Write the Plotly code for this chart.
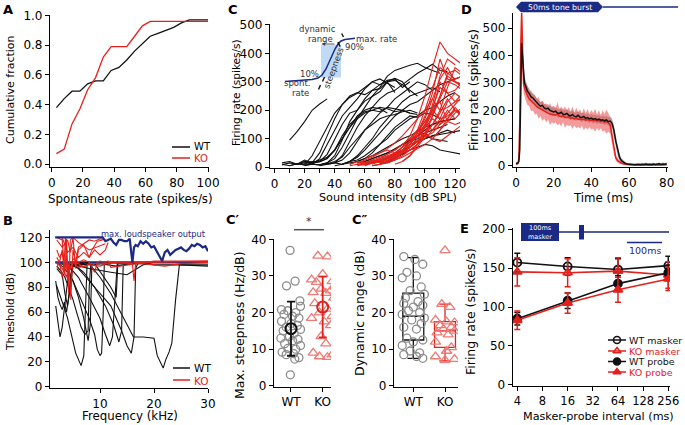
import plotly.graph_objects as go

W, H = 685, 425
FONT = "DejaVu Sans"
BLACK = "#111111"
RED = "#e3211c"
LRED = "#ee7a74"
GRAY = "#8c8c8c"
NAVY = "#1b2a85"

# ---------------- data ----------------
# A: cumulative distribution of spontaneous rates
A_RATE = [3, 8, 13, 18, 23, 28, 33, 38, 43, 48, 53, 58, 63, 68, 73, 78, 83, 88, 93, 98, 100]
A_WT = [0.38, 0.44, 0.49, 0.49, 0.54, 0.56, 0.56, 0.63, 0.65, 0.70, 0.76, 0.81, 0.86, 0.88, 0.90,
        0.92, 0.95, 0.97, 0.97, 0.97, 0.97]
A_KO = [0.07, 0.10, 0.27, 0.37, 0.50, 0.58, 0.72, 0.79, 0.79, 0.79, 0.86, 0.93, 0.96, 0.96, 0.96,
        0.96, 0.96, 0.96, 0.96, 0.96, 0.96]

# B: tuning curves (frequency kHz, threshold dB)
B_WT = [
    ([1.8, 2.2, 2.6, 3.0, 3.3, 3.6, 4.0, 4.5, 5.0, 6.0, 8.0], [65, 50, 40, 48, 62, 70, 85, 97, 100, 99, 100]),
    ([1.8, 2.2, 2.6, 3.0, 3.4, 3.8, 4.2, 4.6, 5.0, 7.0], [85, 72, 66, 62, 68, 60, 72, 90, 100, 99]),
    ([1.9, 2.5, 3.0, 3.5, 4.0, 4.5, 5.0, 5.5, 6.0, 6.5, 7.0, 7.3, 7.6, 8.5],
     [82, 75, 68, 62, 55, 45, 35, 27, 22, 17, 25, 60, 98, 99]),
    ([2.0, 3.0, 4.0, 5.0, 6.0, 7.0, 8.0, 9.0, 9.5, 10.0, 10.3, 10.6, 10.8, 12.0],
     [99, 97, 92, 85, 75, 65, 55, 42, 30, 25, 27, 60, 100, 99]),
    ([3.0, 4.0, 5.0, 6.0, 7.0, 7.8, 8.2, 8.5, 10.0], [99, 95, 85, 72, 55, 37, 50, 99, 99]),
    ([4.0, 6.0, 8.0, 10.0, 11.0, 11.8, 12.3, 12.8, 13.2, 15.0], [98, 88, 72, 55, 42, 33, 40, 70, 99, 99]),
    ([4.0, 6.0, 8.0, 10.0, 12.0, 14.0, 15.0, 15.8, 16.3, 16.6, 17.0], [99, 95, 85, 75, 65, 45, 33, 27, 40, 95, 99]),
    ([8.0, 10.0, 12.0, 14.0, 15.5, 16.2, 18.0, 20.0, 20.6, 21.2, 21.7, 22.2, 22.8, 23.3, 24.0, 24.7, 30.0],
     [99, 88, 75, 58, 45, 40, 40, 39, 25, 20, 15, 22, 28, 35, 70, 98, 98]),
    ([5.0, 7.0, 9.0, 11.0, 12.5, 13.5, 14.0, 14.3, 16.0], [99, 92, 80, 65, 50, 36, 45, 99, 99]),
    ([2.0, 5.0, 10.0, 13.0, 16.0, 19.0, 20.0, 25.0, 30.0], [99, 98, 99, 97, 99, 99, 98, 98, 97]),
    ([2.0, 3.0, 3.5, 4.0, 4.5, 5.0, 8.0], [95, 90, 75, 65, 80, 97, 99]),
    ([9.0, 10.5, 12.0, 13.0, 13.3, 14.0], [99, 90, 80, 72, 99, 99]),
    ([4.0, 8.0, 12.0, 15.0, 18.0, 19.0], [99, 95, 92, 90, 98, 99]),
    ([2.0, 2.8, 3.5, 4.2, 5.0, 5.8, 6.5, 7.2, 7.8, 8.0, 8.3], [97, 93, 88, 80, 70, 58, 48, 42, 45, 80, 99]),
]
B_KO = [
    ([2.0, 2.5, 3.0, 3.3, 3.6, 4.0, 4.3, 4.6, 5.0, 5.5, 6.0, 7.0, 8.0, 9.0, 10.0, 11.0],
     [104, 100, 110, 95, 120, 85, 100, 70, 110, 100, 112, 115, 118, 117, 119, 118]),
    ([2.0, 3.0, 3.5, 3.8, 4.2, 4.5, 5.0, 6.0, 8.0, 10.0, 11.0], [120, 118, 90, 119, 75, 118, 120, 116, 110, 113, 115]),
    ([2.0, 3.0, 3.8, 4.3, 5.0, 6.0, 8.0, 10.0, 12.0, 16.0, 16.3, 16.6, 18.0, 20.0, 22.0, 25.0, 30.0],
     [100, 95, 88, 99, 100, 96, 98, 97, 100, 99, 85, 99, 99, 98, 97, 99, 100]),
    ([2.0, 2.5, 3.0, 3.5, 4.0, 4.5, 5.0, 6.0, 7.0, 8.0, 9.0, 9.5, 10.0, 11.0, 11.5, 12.0, 20.0, 30.0],
     [110, 104, 108, 96, 100, 94, 103, 100, 102, 100, 92, 100, 101, 100, 101, 96, 101, 101]),
    ([3.0, 4.0, 5.0, 6.0, 7.0, 8.0, 9.0, 10.0, 11.0, 11.5], [120, 108, 112, 104, 108, 104, 110, 106, 110, 116]),
    ([2.0, 3.0, 4.0, 4.5, 5.0, 5.5, 6.0, 7.0, 8.0, 8.5, 9.5, 10.5],
     [118, 112, 118, 108, 120, 95, 110, 114, 104, 110, 117, 118]),
    ([2.0, 2.5, 3.0, 3.5, 4.0, 5.0, 6.0, 7.0, 8.0, 20.0, 30.0], [96, 100, 88, 100, 93, 100, 99, 96, 99, 100, 101]),
]
B_MAX_F = [1.7, 10.5, 11.0, 11.5, 12.0, 12.5, 13.0, 13.5, 14.0, 14.5, 15.0, 15.5, 16.0, 16.3, 16.6, 17.0,
           17.5, 18.0, 18.5, 19.0, 19.5, 20.0, 20.5, 21.0, 21.5, 22.0, 22.5, 23.0, 23.5, 24.0, 24.5,
           25.0, 25.5, 26.0, 26.5, 27.0, 27.5, 28.0, 28.5, 29.0, 29.5, 30.0]
B_MAX_DB = [120, 120, 117, 118, 119, 116, 114, 118, 118, 117, 117, 119, 100, 112, 114, 113,
            117, 115, 117, 115, 112, 113, 109, 106, 101, 108, 110, 106, 108, 110, 111,
            112, 110, 109, 111, 114, 113, 115, 114, 112, 113, 109]
B_FLOOR_F = [1.7, 30.0]
B_FLOOR_DB = [100, 100]

# C: rate-level functions
C_LEVELS = [0, 5, 10, 15, 20, 25, 30, 35, 40, 45, 50, 55, 60, 65, 70, 75, 80, 85, 90, 95,
            100, 105, 110, 115, 120, 125]
C_WT = [
    (10, [95, 125, 160, 200, 222, 240]),
    (5, [10, 5, 12, 8, 40, 90, 140, 190, 220, 245, 260, 280, 300, 290, 305, 310, 280, 300]),
    (5, [8, 15, 10, 20, 15, 50, 110, 170, 220, 250, 262, 255, 270, 276, 300, 262]),
    (10, [5, 12, 8, 10, 30, 80, 130, 180, 210, 240, 275, 300, 310, 295, 280]),
    (15, [10, 15, 12, 20, 45, 95, 150, 190, 200, 232, 250, 265, 300, 305, 290, 270, 250]),
    (20, [5, 10, 8, 15, 40, 95, 160, 200, 240, 270, 290, 300, 312, 300, 262]),
    (20, [15, 20, 18, 30, 60, 110, 150, 175, 195, 200, 210, 205, 195, 200, 190]),
    (25, [10, 8, 15, 30, 70, 120, 170, 210, 250, 280, 320, 340, 350, 358, 365, 350, 340, 330]),
    (30, [5, 10, 15, 40, 90, 140, 180, 210, 240, 260, 270, 290, 310, 330, 345, 362, 340, 335]),
    (30, [8, 12, 20, 35, 70, 100, 130, 150, 170, 180, 185, 195, 200, 190]),
    (35, [10, 15, 25, 50, 90, 130, 160, 190, 210, 240, 260, 280, 300, 290, 270]),
    (40, [5, 10, 20, 40, 70, 100, 140, 170, 200, 230, 250, 260, 270, 280, 265]),
    (45, [10, 15, 20, 30, 50, 80, 110, 140, 160, 180, 175, 190, 185, 170]),
    (40, [15, 10, 20, 25, 40, 60, 80, 100, 130, 150, 170, 180, 200, 210, 230, 250, 262]),
    (50, [10, 20, 30, 40, 55, 70, 85, 100, 110, 125, 140, 150, 160, 165, 170]),
    (55, [15, 20, 30, 40, 50, 65, 80, 95, 110, 120, 130, 140, 150]),
    (60, [10, 15, 25, 35, 45, 60, 70, 90, 100, 110, 120, 130, 120]),
    (60, [20, 30, 40, 50, 60, 80, 90, 100, 110, 100, 95, 90]),
    (65, [5, 10, 20, 30, 45, 60, 70, 80, 75, 60, 55, 50, 45]),
    (45, [10, 20, 35, 60, 90, 120, 150, 180, 200, 220, 230, 250, 270, 290, 300, 310, 320]),
    (15, [10, 20, 15, 25, 35, 60, 100, 140, 170, 190, 200, 195, 210, 205, 200, 190, 185]),
    (5, [15, 20, 10, 25, 15, 20, 30, 60, 100, 140, 180, 200, 210, 205, 190]),
    (70, [10, 20, 40, 60, 90, 110, 130, 150, 160, 165, 170]),
    (75, [15, 30, 50, 70, 90, 100, 110, 115, 120, 125, 130]),
]
C_KO = [
    (50, [5, 10, 8, 15, 20, 30, 45, 70, 110, 170, 250, 350, 440, 400, 380, 360]),
    (55, [10, 15, 20, 25, 30, 40, 60, 90, 130, 200, 280, 350, 330, 340, 320]),
    (60, [15, 20, 25, 35, 40, 60, 80, 120, 180, 260, 380, 310, 300, 290]),
    (55, [20, 10, 25, 15, 30, 35, 50, 70, 100, 140, 200, 300, 260, 270, 300]),
    (50, [10, 20, 15, 25, 20, 35, 30, 50, 60, 80, 120, 180, 250, 330, 310, 320]),
    (60, [5, 15, 20, 30, 45, 55, 70, 90, 120, 150, 190, 240, 200, 180]),
    (65, [10, 20, 30, 40, 60, 80, 110, 150, 210, 280, 260, 230, 240]),
    (55, [5, 10, 20, 30, 45, 60, 80, 100, 130, 160, 200, 230, 160, 150, 160]),
    (60, [30, 40, 50, 60, 50, 70, 90, 110, 140, 170, 150, 170, 210, 180]),
    (65, [20, 30, 40, 50, 70, 90, 120, 160, 200, 170, 180, 200, 190]),
    (70, [10, 20, 30, 50, 70, 100, 140, 190, 250, 320, 300, 290]),
    (60, [10, 25, 35, 45, 60, 80, 100, 130, 110, 120, 150, 190, 220, 250]),
    (75, [15, 25, 40, 60, 80, 110, 150, 200, 280, 350, 330]),
    (70, [20, 35, 50, 60, 80, 90, 120, 100, 130, 160, 190, 210]),
    (80, [10, 20, 40, 70, 110, 180, 240, 300, 290, 270]),
    (65, [5, 10, 15, 25, 35, 50, 65, 80, 100, 130, 170, 200, 180]),
    (60, [10, 15, 20, 30, 40, 50, 70, 90, 120, 100, 90, 110, 130, 150]),
    (75, [20, 30, 50, 80, 120, 170, 240, 310, 350, 300, 280]),
    (80, [30, 50, 60, 80, 100, 130, 170, 230, 260, 240]),
    (70, [15, 25, 35, 55, 80, 110, 150, 130, 160, 200, 170, 200]),
    (85, [20, 40, 80, 140, 220, 320, 380, 360]),
    (55, [15, 25, 35, 50, 65, 85, 110, 140, 170, 200, 240, 200, 210, 230, 260]),
]
# schematic inset (pixel space)
C_INSET_X = [285, 295, 305, 312, 318, 322, 326, 329, 332, 335, 338, 341, 345, 350, 355]
C_INSET_Y = [81.5, 81, 80.5, 79.5, 78, 75, 69, 62, 55, 49, 44, 41, 39.5, 38.5, 38.2]

# D: PSTH
D_T = [0, 1, 1.5, 2, 2.5, 3, 3.5, 4, 4.5,
       5, 6, 7, 8, 9, 10, 11, 12, 13, 14, 15, 16, 17, 18, 19, 20, 21, 22, 23, 24, 25, 26, 27, 28, 29,
       30, 31, 32, 33, 34, 35, 36, 37, 38, 39, 40, 41, 42, 43, 44, 45, 46, 47, 48, 49, 50, 51, 52, 53,
       54, 55, 56, 57, 58, 59, 60, 61, 62, 63, 64, 65, 66, 67, 68, 69, 70, 71, 72, 73, 74, 75, 76, 77,
       78, 79, 80]
D_WT = [8, 10, 14, 60, 250, 445, 390, 320, 300,
        292, 272, 262, 250, 246, 236, 230, 222, 216, 219, 210, 206, 209, 201, 198, 195, 198, 191, 190,
        194, 187, 186, 190, 183, 181, 186, 179, 178, 183, 176, 175, 179, 172, 175, 170, 173, 168, 171,
        166, 169, 165, 167, 163, 166, 160, 162, 154, 128, 88, 52, 30, 18, 12, 8, 6, 5, 4, 5, 3, 4, 5,
        3, 5, 4, 6, 4, 5, 3, 6, 4, 5, 7, 4, 6, 5, 7]
D_WT_SEM = [3, 4, 6, 15, 35, 40, 35, 25, 22,
            20, 18, 18, 17, 17, 16, 16, 16, 15, 16, 15, 15, 14, 15, 16, 15, 14, 15, 15, 14, 15, 16, 15,
            14, 15, 15, 14, 15, 14, 15, 16, 15, 14, 15, 15, 14, 15, 14, 15, 15, 14, 15, 16, 15, 15, 16,
            16, 18, 18, 15, 12, 8, 6, 5, 4, 4, 4, 4, 5, 4, 4, 5, 4, 4, 5, 4, 4, 5, 4, 4, 5, 4, 4, 5, 4, 5]
D_KO = [5, 8, 25, 160, 430, 560, 420, 300, 282,
        270, 255, 242, 236, 228, 222, 214, 210, 204, 200, 197, 192, 191, 188, 186, 185, 183, 188, 180,
        178, 182, 176, 175, 178, 172, 174, 170, 173, 168, 170, 167, 169, 165, 168, 164, 166, 163, 165,
        162, 164, 160, 162, 158, 160, 156, 148, 108, 55, 28, 18, 12, 9, 7, 5, 4, 3, 3, 2, 3, 2, 3, 2,
        2, 3, 2, 3, 2, 2, 3, 2, 3, 2, 2, 3, 2, 3]
D_KO_SEM = [3, 5, 10, 40, 60, 50, 45, 35, 30,
            30, 35, 25, 38, 28, 36, 26, 40, 24, 38, 26, 35, 22, 40, 28, 33, 24, 42, 27, 36, 23, 39, 26,
            34, 25, 41, 24, 37, 27, 35, 22, 40, 26, 38, 24, 36, 28, 42, 25, 37, 24, 39, 30, 44, 33, 30,
            25, 15, 10, 8, 6, 5, 4, 4, 3, 3, 3, 2, 3, 2, 3, 2, 3, 2, 3, 2, 3, 2, 3, 2, 3, 2, 3, 2, 3, 2]

# C': maximum steepness
CP_WT = [37.0, 28.6, 27.3, 23.2, 21.7, 20.8, 20.5, 20.0, 19.5, 19.0, 18.5, 17.6, 17.0, 16.5, 16.0, 15.4,
         15.0, 14.3, 13.5, 13.0, 12.7, 12.3, 11.5, 11.0, 10.2, 10.0, 9.2, 8.8, 8.5, 7.7, 7.3, 3.0]
CP_WT_JIT = [-0.03, 0.13, -0.14, 0.28, 0.30, -0.30, -0.10, 0.15, -0.22, 0.05, 0.25, -0.30, 0.00, 0.20,
             -0.15, 0.30, -0.25, 0.10, -0.05, -0.32, 0.22, 0.05, -0.20, 0.30, -0.10, 0.15, -0.28, 0.08,
             -0.15, 0.25, 0.12, -0.02]
CP_KO = [35.5, 35.3, 30.5, 29.0, 28.5, 28.3, 27.0, 26.5, 26.0, 25.5, 25.3, 24.0, 22.5, 21.0, 20.0, 19.0,
         18.5, 17.5, 16.5, 13.5, 11.5, 9.0, 8.5, 8.0, 7.8]
CP_KO_JIT = [-0.15, 0.15, 0.0, -0.35, 0.3, -0.2, 0.38, -0.05, 0.25, -0.3, 0.1, 0.35, -0.25, 0.15, -0.1,
             0.3, -0.35, 0.05, 0.25, -0.05, 0.1, -0.3, 0.3, -0.1, 0.15]
CP_MEAN = [15.6, 21.5]
CP_SD = [7.4, 8.3]

# C'': dynamic range
CPP_WT = [35.3, 34.5, 33.2, 31.0, 30.0, 29.5, 27.0, 26.0, 25.0, 24.0, 23.0, 22.5, 22.0, 21.5, 20.5, 20.0,
          19.5, 18.5, 18.0, 17.0, 16.0, 15.5, 13.0, 12.5, 12.0, 11.0, 9.5, 9.0, 8.5, 8.0, 7.5]
CPP_WT_JIT = [-0.3, 0.05, 0.3, -0.2, 0.1, -0.35, 0.25, -0.1, 0.35, -0.25, 0.15, -0.3, 0.3, 0.0, -0.15,
              0.2, -0.35, 0.35, -0.05, 0.25, -0.3, 0.1, -0.2, 0.3, 0.0, -0.35, -0.1, 0.2, -0.3, 0.1, 0.3]
CPP_KO = [37.0, 22.3, 21.5, 18.0, 17.5, 17.3, 16.5, 16.0, 15.5, 15.0, 14.5, 14.0, 12.0, 10.5, 9.5, 8.0,
          7.3, 7.0]
CPP_KO_JIT = [0.0, -0.1, 0.15, -0.3, 0.05, 0.3, -0.15, 0.2, -0.05, 0.3, -0.25, 0.1, -0.3, 0.2, 0.05,
              -0.3, 0.3, 0.0]
CPP_STATS = {"q1": [12.5, 10.5], "median": [19.0, 15.0], "q3": [25.3, 17.5],
             "lo": [7.5, 6.8], "hi": [35.0, 22.3]}

# E: forward masking
E_INT = [4, 16, 64, 256]
E_WT_MASK = [157, 152, 148, 153]
E_WT_MASK_ERR = [12, 11, 14, 12]
E_KO_MASK = [145, 144, 146, 141]
E_KO_MASK_ERR = [18, 18, 17, 17]
E_WT_PROBE = [85, 108, 130, 144]
E_WT_PROBE_ERR = [8, 10, 10, 10]
E_KO_PROBE = [83, 105, 122, 136]
E_KO_PROBE_ERR = [12, 13, 16, 15]
E_TICKS = [4, 8, 16, 32, 64, 128, 256]

# ---------------- figure ----------------
fig = go.Figure()
ann = []
shapes = []


def dx(a, b):
    return [a / W, b / W]


def dy(top, bottom):
    return [1 - bottom / H, 1 - top / H]


def ax(**kw):
    d = dict(showline=True, linecolor="black", linewidth=1.2, ticks="outside", ticklen=4,
             tickwidth=1.2, tickcolor="black", showgrid=False, zeroline=False, automargin=False,
             tickangle=0, tickfont=dict(family=FONT, size=12, color="black"))
    d.update(kw)
    return d


def txt(x, y, s, size=12, color="black", xa="center", ya="middle", angle=0, bold=False):
    if bold:
        s = "<b>" + s + "</b>"
    ann.append(dict(x=x, y=y, xref="x8", yref="y8", text=s, showarrow=False, xanchor=xa, yanchor=ya,
                    textangle=angle, font=dict(family=FONT, size=size, color=color)))


def seg(x0, y0, x1, y1, color="black", width=1.5, dash=None):
    ln = dict(color=color, width=width)
    if dash:
        ln["dash"] = dash
    shapes.append(dict(type="line", x0=x0, y0=y0, x1=x1, y1=y1, xref="x8", yref="y8", line=ln))


def sc(x, y, xa, ya, **kw):
    fig.add_trace(go.Scatter(x=x, y=y, xaxis=xa, yaxis=ya, showlegend=False, hoverinfo="skip", **kw))


# ---- A ----
sc(A_RATE, A_WT, "x", "y", mode="lines", line=dict(color=BLACK, width=1.3))
sc(A_RATE, A_KO, "x", "y", mode="lines", line=dict(color=RED, width=1.3))

# ---- B ----
sc(B_FLOOR_F, B_FLOOR_DB, "x2", "y2", mode="lines", line=dict(color=NAVY, width=2.2))
for f, t in B_WT:
    sc(f, t, "x2", "y2", mode="lines", line=dict(color=BLACK, width=1.1))
for f, t in B_KO:
    sc(f, t, "x2", "y2", mode="lines", line=dict(color=RED, width=1.1))
sc(B_MAX_F, B_MAX_DB, "x2", "y2", mode="lines", line=dict(color=NAVY, width=2.2))

# ---- C ----
for s, v in C_WT:
    i = C_LEVELS.index(s)
    sc(C_LEVELS[i:i + len(v)], v, "x3", "y3", mode="lines", line=dict(color=BLACK, width=1.1))
for s, v in C_KO:
    i = C_LEVELS.index(s)
    sc(C_LEVELS[i:i + len(v)], v, "x3", "y3", mode="lines", line=dict(color=RED, width=1.1))

# ---- D ----
wt_up = [m + e for m, e in zip(D_WT, D_WT_SEM)]
wt_lo = [max(m - e, 0) for m, e in zip(D_WT, D_WT_SEM)]
ko_up = [m + e for m, e in zip(D_KO, D_KO_SEM)]
ko_lo = [max(m - e, 0) for m, e in zip(D_KO, D_KO_SEM)]
sc(D_T + D_T[::-1], wt_up + wt_lo[::-1], "x4", "y4", mode="lines", fill="toself",
   fillcolor="rgba(150,150,150,0.85)", line=dict(width=0))
sc(D_T + D_T[::-1], ko_up + ko_lo[::-1], "x4", "y4", mode="lines", fill="toself",
   fillcolor="rgba(236,100,100,0.65)", line=dict(width=0))
sc(D_T, D_KO, "x4", "y4", mode="lines", line=dict(color=RED, width=1.5))
sc(D_T, D_WT, "x4", "y4", mode="lines", line=dict(color=BLACK, width=1.5))

# ---- C' ----
sc([0 + j for j in CP_WT_JIT], CP_WT, "x5", "y5", mode="markers",
   marker=dict(symbol="circle-open", size=8, color=GRAY, line=dict(width=1.3)))
sc([1 + j for j in CP_KO_JIT], CP_KO, "x5", "y5", mode="markers",
   marker=dict(symbol="triangle-up-open", size=9, color=LRED, line=dict(width=1.3)))
sc([0], [CP_MEAN[0]], "x5", "y5", mode="markers",
   marker=dict(symbol="circle-open", size=11, color=BLACK, line=dict(width=2)),
   error_y=dict(type="data", array=[CP_SD[0]], color=BLACK, thickness=1.8, width=4))
sc([1], [CP_MEAN[1]], "x5", "y5", mode="markers",
   marker=dict(symbol="circle-open", size=11, color=RED, line=dict(width=2)),
   error_y=dict(type="data", array=[CP_SD[1]], color=RED, thickness=1.8, width=4))

# ---- C'' ----
for k, col in ((0, BLACK), (1, RED)):
    fig.add_trace(go.Box(x=[k], q1=[CPP_STATS["q1"][k]], median=[CPP_STATS["median"][k]],
                         q3=[CPP_STATS["q3"][k]], lowerfence=[CPP_STATS["lo"][k]],
                         upperfence=[CPP_STATS["hi"][k]], xaxis="x6", yaxis="y6", width=0.66,
                         whiskerwidth=0.55, fillcolor="rgba(0,0,0,0)", line=dict(color=col, width=1.3),
                         boxpoints=False, showlegend=False, hoverinfo="skip"))
sc([0 + j for j in CPP_WT_JIT], CPP_WT, "x6", "y6", mode="markers",
   marker=dict(symbol="circle-open", size=8, color=GRAY, line=dict(width=1.3)))
sc([1 + j for j in CPP_KO_JIT], CPP_KO, "x6", "y6", mode="markers",
   marker=dict(symbol="triangle-up-open", size=9, color=LRED, line=dict(width=1.3)))

# ---- E ----
E_SERIES = [
    (E_WT_MASK, E_WT_MASK_ERR, BLACK, "circle-open"),
    (E_KO_MASK, E_KO_MASK_ERR, RED, "triangle-up-open"),
    (E_WT_PROBE, E_WT_PROBE_ERR, BLACK, "circle"),
    (E_KO_PROBE, E_KO_PROBE_ERR, RED, "triangle-up"),
]
for vals, err, col, sym in E_SERIES:
    sc(E_INT, vals, "x7", "y7", mode="lines+markers", line=dict(color=col, width=1.6),
       marker=dict(symbol=sym, size=8, color=col, line=dict(width=1.8, color=col)),
       error_y=dict(type="data", array=err, color=col, thickness=1.5, width=3))

# ---- legends / decorations in pixel overlay ----
# A legend
seg(172, 147, 190, 147, BLACK, 1.5)
seg(172, 158, 190, 158, RED, 1.5)
txt(192, 146.5, "WT", 10, xa="left")
txt(192, 158.5, "KO", 10, RED, xa="left")
# B legend
seg(173, 368, 190, 368, BLACK, 1.5)
seg(173, 380, 190, 380, RED, 1.5)
txt(192, 367.5, "WT", 10.5, xa="left")
txt(192, 380.5, "KO", 10.5, RED, xa="left")
txt(208, 234, "max. loudspeaker output", 8.3, NAVY, xa="right")
# E legend
E_LEG = [("WT masker", BLACK, "circle-open", 340), ("KO masker", RED, "triangle-up-open", 351),
         ("WT probe", BLACK, "circle", 361.5), ("KO probe", RED, "triangle-up", 372)]
for label, col, sym, yy in E_LEG:
    seg(608, yy, 626, yy, col, 1.5)
    sc([617], [yy], "x8", "y8", mode="markers",
       marker=dict(symbol=sym, size=7, color=col, line=dict(width=1.6, color=col)))
    txt(627, yy, label, 9.5, col, xa="left")

# C inset schematic
shapes.append(dict(type="rect", x0=321, x1=341, y0=45, y1=77.5, xref="x8", yref="y8",
                   fillcolor="rgba(170,205,240,0.75)", line=dict(width=0), layer="below"))
sc(C_INSET_X, C_INSET_Y, "x8", "y8", mode="lines", line=dict(color=NAVY, width=1.5))
seg(341.7, 33.5, 343.5, 37, BLACK, 1.4)
seg(338, 42, 340, 46.5, BLACK, 1.6)
seg(318.5, 89.5, 320.5, 85, BLACK, 1.4)
seg(322.5, 81.5, 324.5, 77, BLACK, 1.4)
ann.append(dict(x=321.5, y=44, ax=336, ay=44, xref="x8", yref="y8", axref="x8", ayref="y8", text="",
                showarrow=True, arrowhead=2, arrowsize=0.8, arrowwidth=0.9, arrowcolor="#444"))
txt(317, 28.5, "dynamic", 8.5, "#333")
txt(335, 38.5, "range", 8.5, "#333", xa="right")
txt(354, 38.5, "max. rate", 8.5, "#333", xa="left")
txt(354, 46.5, "90%", 8.5, "#333")
txt(309, 73.5, "10%", 8.5, "#333")
txt(297, 82.5, "spont.", 8.5, "#333")
txt(300, 93, "rate", 8.5, "#333")
txt(333.5, 68, "steepness", 8.5, "#333", angle=-70)

# D banner
shapes.append(dict(type="path", path="M 516 7 L 521 1.8 L 598 1.8 L 603 7 L 598 12.2 L 521 12.2 Z",
                   xref="x8", yref="y8", fillcolor=NAVY, line=dict(width=0)))
seg(603, 7, 678, 7, NAVY, 1.3)
txt(560, 7.3, "50ms tone burst", 7.8, "white")

# E banner
shapes.append(dict(type="rect", x0=521, x1=559, y0=223, y1=241, xref="x8", yref="y8",
                   fillcolor=NAVY, line=dict(width=0)))
shapes.append(dict(type="rect", x0=579, x1=584, y0=225, y1=239.5, xref="x8", yref="y8",
                   fillcolor=NAVY, line=dict(width=0)))
seg(559, 232, 669, 232, NAVY, 1.3)
seg(627, 242.5, 662, 242.5, NAVY, 1.4)
txt(540, 228, "100ms", 6.5, "white")
txt(540, 236.5, "masker", 6.5, "white")
txt(644.5, 250, "100ms", 9.5, NAVY)

# C' significance
seg(294, 229.7, 324, 229.7, "#555", 1.5)
txt(309, 221, "*", 11, "#333")

# panel letters
txt(8, 9, "A", 13, bold=True)
txt(8, 220, "B", 13, bold=True)
txt(233, 9, "C", 13, bold=True)
txt(466, 9, "D", 13, bold=True)
txt(233, 219, "C′", 13, bold=True)
txt(360, 219, "C″", 13, bold=True)
txt(464, 228, "E", 13, bold=True)

# axis titles
txt(10, 90, "Cumulative fraction", 11, angle=-90)
txt(130, 199, "Spontaneous rate (spikes/s)", 11.8)
txt(10, 312, "Threshold (dB)", 10.5, angle=-90)
txt(130, 416, "Frequency (kHz)", 11.8)
txt(236, 93, "Firing rate (spikes/s)", 10.5, angle=-90)
txt(388, 197, "Sound intensity (dB SPL)", 11.2)
txt(474, 90, "Firing rate (spikes/s)", 12, angle=-90)
txt(603, 198, "Time (ms)", 11.8)
txt(239, 325, "Max. steepness (Hz/dB)", 12.5, angle=-90)
txt(359, 313, "Dynamic range (dB)", 12.5, angle=-90)
txt(470, 312, "Firing rate (spikes/s)", 12.5, angle=-90)
txt(598, 416, "Masker-probe interval (ms)", 11.2)

fig.update_layout(
    template="none",
    width=W, height=H, margin=dict(l=0, r=0, t=0, b=0, pad=0), paper_bgcolor="white",
    plot_bgcolor="rgba(0,0,0,0)",
    font=dict(family=FONT, size=12, color="black"), showlegend=False,
    xaxis=ax(domain=dx(50, 209), anchor="y", range=[-1.1, 100.6], tickvals=[0, 20, 40, 60, 80, 100]),
    yaxis=ax(domain=dy(15, 167), anchor="x", range=[-0.02, 1.003], tickvals=[0, 0.2, 0.4, 0.6, 0.8, 1.0],
             tickformat=".1f"),
    xaxis2=ax(domain=dx(50, 208), anchor="y2", range=[0.74, 30], tickvals=[10, 20, 30]),
    yaxis2=ax(domain=dy(230, 388), anchor="x2", range=[-1, 126], tickvals=[0, 20, 40, 60, 80, 100, 120]),
    xaxis3=ax(domain=dx(270, 460), anchor="y3", range=[-3, 123.3], tickvals=[0, 20, 40, 60, 80, 100, 120],
              minor=dict(tickvals=[10, 30, 50, 70, 90, 110], ticks="outside", ticklen=4, tickwidth=1.2,
                         tickcolor="black", showgrid=False)),
    yaxis3=ax(domain=dy(23.5, 168), anchor="x3", range=[-3, 505], tickvals=[0, 100, 200, 300, 400, 500]),
    xaxis4=ax(domain=dx(513, 668), anchor="y4", range=[-1.6, 80.7], tickvals=[0, 20, 40, 60, 80]),
    yaxis4=ax(domain=dy(13, 167), anchor="x4", range=[-5, 555], tickvals=[0, 100, 200, 300, 400, 500]),
    xaxis5=ax(domain=dx(274, 331), anchor="y5", range=[-0.536, 1.262], tickvals=[0, 1],
              ticktext=["WT", "KO"]),
    yaxis5=ax(domain=dy(239, 386.5), anchor="x5", range=[-0.2, 40.1], tickvals=[0, 10, 20, 30, 40]),
    xaxis6=ax(domain=dx(394, 458), anchor="y6", range=[-0.609, 1.41], tickvals=[0, 1],
              ticktext=["WT", "KO"]),
    yaxis6=ax(domain=dy(239, 386.5), anchor="x6", range=[-0.2, 40.1], tickvals=[0, 10, 20, 30, 40]),
    xaxis7=ax(domain=dx(512.7, 670), anchor="y7", type="log", range=[0.547, 2.4286], tickvals=E_TICKS,
              ticktext=[str(t) for t in E_TICKS], tickfont=dict(family=FONT, size=11.5, color="black")),
    yaxis7=ax(domain=dy(228, 386), anchor="x7", range=[-1.3, 201.3], tickvals=[0, 50, 100, 150, 200]),
    xaxis8=dict(domain=[0, 1], anchor="y8", range=[0, W], visible=False, fixedrange=True),
    yaxis8=dict(domain=[0, 1], anchor="x8", range=[H, 0], visible=False, fixedrange=True),
    annotations=ann, shapes=shapes,
)

fig.write_html("out.html", config={"displayModeBar": False},
               post_script="document.body.style.margin='0';document.body.style.padding='0';")
